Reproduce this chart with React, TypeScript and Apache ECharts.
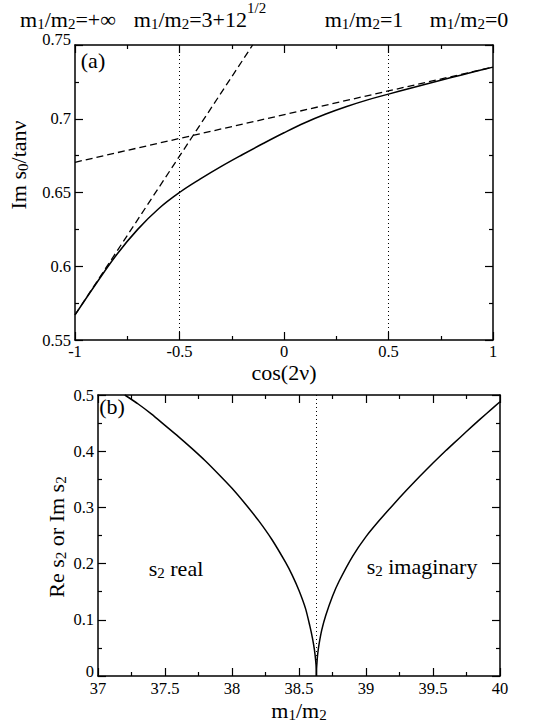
import React, { useEffect, useRef } from "react";
import * as echarts from "echarts";

// ---------- data ----------
// Panel (a): Im s0 / tan(nu) versus cos(2 nu)
const cos2nu = [-1, -0.9, -0.8, -0.7, -0.6, -0.5, -0.4, -0.3, -0.2, -0.1, 0, 0.1, 0.2, 0.3, 0.4, 0.5, 0.6, 0.7, 0.8, 0.9, 1];
const imS0OverTanNu = [0.567, 0.588, 0.608, 0.625, 0.639, 0.650, 0.6592, 0.6677, 0.6756, 0.6832, 0.6905, 0.6973, 0.7032, 0.7083, 0.7128, 0.7167, 0.7205, 0.7242, 0.7279, 0.7315, 0.735];
// tangent lines (dashed)
const tangentRightX = [-1, 1];
const tangentRightY = [0.6705, 0.735];
const tangentLeftX = [-1, -0.15];
const tangentLeftY = [0.567, 0.75];
// dotted vertical markers
const markersA = [-0.5, 0.5];

// Panel (b): Re s2 (s2 real) and Im s2 (s2 imaginary) versus m1/m2
const massRatioReal = [37.2, 37.3, 37.4, 37.5, 37.6, 37.7, 37.8, 37.9, 38.0, 38.1, 38.2, 38.3, 38.4, 38.45, 38.5, 38.55, 38.58, 38.6, 38.615, 38.625, 38.629, 38.63];
const reS2 = [0.5, 0.484, 0.466, 0.446, 0.426, 0.405, 0.383, 0.359, 0.334, 0.306, 0.276, 0.242, 0.202, 0.179, 0.152, 0.119, 0.09, 0.068, 0.047, 0.026, 0.012, 0];
const massRatioImag = [38.63, 38.631, 38.635, 38.64, 38.65, 38.67, 38.7, 38.75, 38.8, 38.9, 39.0, 39.1, 39.2, 39.3, 39.4, 39.5, 39.6, 39.7, 39.8, 39.9, 40.0];
const imS2 = [0, 0.012, 0.027, 0.04, 0.057, 0.082, 0.108, 0.142, 0.169, 0.213, 0.248, 0.277, 0.304, 0.33, 0.355, 0.379, 0.402, 0.424, 0.446, 0.467, 0.488];
const markersB = [38.63];

// texts
const topLabels = [
  "m{sub|1}/m{sub|2}=+∞",
  "m{sub|1}/m{sub|2}=3+12{sup|1/2}",
  "m{sub|1}/m{sub|2}=1",
  "m{sub|1}/m{sub|2}=0",
];

const FONT = "Liberation Serif, Times New Roman, serif";

const zip = (xs: number[], ys: number[]) => xs.map((x, i) => [x, ys[i]]);

const RICH = {
  sub: { fontSize: 15, lineHeight: 12, padding: [10, 0, 0, 0], fontFamily: FONT, fill: "#000" },
  sup: { fontSize: 15, lineHeight: 12, padding: [0, 0, 23, 0], fontFamily: FONT, fill: "#000" },
};

function label(text: string, x: number, y: number, align = "center", rotation = 0) {
  return {
    type: "text",
    x,
    y,
    rotation,
    silent: true,
    style: {
      text,
      rich: RICH,
      fontSize: 22,
      lineHeight: 22,
      fontFamily: FONT,
      fill: "#000",
      align,
      verticalAlign: "middle",
    },
  };
}

function axisCfg(grid: number, pos: string, min: number, max: number, interval: number, showLabel: boolean, extra: any = {}) {
  return {
    type: "value",
    gridIndex: grid,
    position: pos,
    min,
    max,
    interval,
    axisLine: { show: true, onZero: false, lineStyle: { color: "#000", width: 1.5 } },
    axisTick: { show: true, inside: true, length: 8, lineStyle: { color: "#000", width: 1.2 } },
    minorTick: { show: true, splitNumber: 2, length: 4, lineStyle: { color: "#000", width: 1.2 } },
    splitLine: { show: false },
    minorSplitLine: { show: false },
    axisLabel: {
      show: showLabel,
      fontSize: 16.5,
      fontFamily: FONT,
      color: "#000",
      margin: 4,
      lineHeight: 13,
      showMinLabel: true,
      showMaxLabel: true,
      ...extra,
    },
  };
}

export default function App() {
  const ref = useRef<HTMLDivElement>(null);
  useEffect(() => {
    document.body.style.margin = "0";
    const chart = echarts.init(ref.current!, null, { renderer: "svg" });
    const lineBase = { type: "line", symbol: "none", showSymbol: false, silent: true };
    const option: any = {
      animation: false,
      backgroundColor: "#fff",
      textStyle: { fontFamily: FONT },
      grid: [
        { left: 75, top: 45, width: 418, height: 295 },
        { left: 98, top: 395, width: 402, height: 281 },
      ],
      xAxis: [
        axisCfg(0, "bottom", -1, 1, 0.5, true, { margin: 5 }),
        axisCfg(0, "top", -1, 1, 0.5, false),
        axisCfg(1, "bottom", 37, 40, 0.5, true, { margin: 6 }),
        axisCfg(1, "top", 37, 40, 0.5, false),
      ],
      yAxis: [
        axisCfg(0, "left", 0.55, 0.75, 0.05, true, { verticalAlignMaxLabel: "bottom", lineHeight: 12 }),
        axisCfg(0, "right", 0.55, 0.75, 0.05, false),
        axisCfg(1, "left", 0, 0.5, 0.1, true, { verticalAlignMinLabel: "bottom", lineHeight: 10 }),
        axisCfg(1, "right", 0, 0.5, 0.1, false),
      ],
      series: [
        {
          ...lineBase,
          xAxisIndex: 0,
          yAxisIndex: 0,
          smooth: 0.4,
          data: zip(cos2nu, imS0OverTanNu),
          lineStyle: { color: "#000", width: 1.5 },
          markLine: {
            silent: true,
            symbol: "none",
            label: { show: false },
            lineStyle: { color: "#000", width: 1, type: [1, 3] },
            data: markersA.map((v) => ({ xAxis: v })),
          },
        },
        {
          ...lineBase,
          xAxisIndex: 0,
          yAxisIndex: 0,
          data: zip(tangentRightX, tangentRightY),
          lineStyle: { color: "#000", width: 1.3, type: [7, 4] },
        },
        {
          ...lineBase,
          xAxisIndex: 0,
          yAxisIndex: 0,
          data: zip(tangentLeftX, tangentLeftY),
          lineStyle: { color: "#000", width: 1.3, type: [7, 4] },
        },
        {
          ...lineBase,
          xAxisIndex: 2,
          yAxisIndex: 2,
          smooth: 0.2,
          data: zip(massRatioReal, reS2),
          lineStyle: { color: "#000", width: 1.5 },
          markLine: {
            silent: true,
            symbol: "none",
            label: { show: false },
            lineStyle: { color: "#000", width: 1, type: [1, 3] },
            data: markersB.map((v) => ({ xAxis: v })),
          },
        },
        {
          ...lineBase,
          xAxisIndex: 2,
          yAxisIndex: 2,
          smooth: 0.2,
          data: zip(massRatioImag, imS2),
          lineStyle: { color: "#000", width: 1.5 },
        },
      ],
      graphic: [
        label(topLabels[0], 68, 19),
        label(topLabels[1], 200, 19),
        label(topLabels[2], 364, 19),
        label(topLabels[3], 469, 19),
        label("(a)", 93, 60),
        label("(b)", 112, 406),
        label("s{sub|2} real", 176, 568),
        label("s{sub|2} imaginary", 422, 566),
        label("cos(2ν)", 284, 372),
        label("m{sub|1}/m{sub|2}", 299, 710),
        label("Im s{sub|0}/tanν", 18, 165, "center", Math.PI / 2),
        label("Re s{sub|2} or Im s{sub|2}", 56, 537, "center", Math.PI / 2),
      ],
    };
    chart.setOption(option);
    return () => chart.dispose();
  }, []);
  return <div ref={ref} style={{ width: 557, height: 726 }} />;
}
